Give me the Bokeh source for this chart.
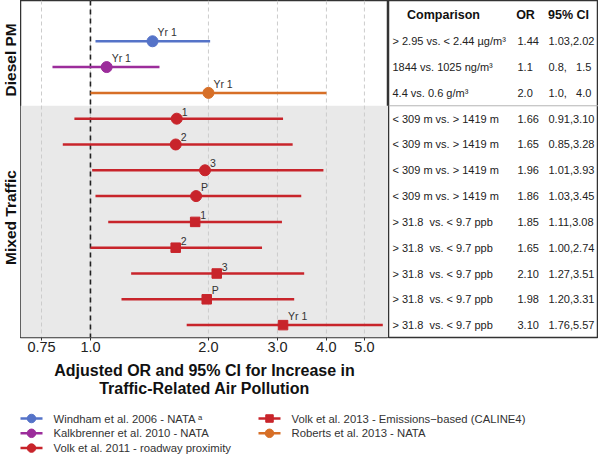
import math
from bokeh.plotting import figure
from bokeh.layouts import row, column
from bokeh.models import Range1d, FixedTicker
from bokeh.core.properties import value
from bokeh.embed import file_html
from bokeh.resources import INLINE

FONT = "Liberation Sans"
NB = "\u00a0"

# ---------------- data ----------------
study_names = ["Windham et al. 2006 - NATA \u1d43",
               "Kalkbrenner et al. 2010 - NATA",
               "Volk et al. 2011 - roadway proximity",
               "Volk et al. 2013 - Emissions\u2212based (CALINE4)",
               "Roberts et al. 2013 - NATA"]
study_colors = ["#5573c8", "#9c2d9b", "#c8242b", "#c8242b", "#d76f27"]
study_markers = ["circle", "circle", "circle", "square", "circle"]

groups = ["Diesel PM", "Mixed Traffic"]

row_study = [0, 1, 4, 2, 2, 2, 2, 3, 3, 3, 3, 3]
odds_ratio = [1.44, 1.1, 2.0, 1.66, 1.65, 1.96, 1.86, 1.85, 1.65, 2.10, 1.98, 3.10]
ci_low = [1.03, 0.8, 1.0, 0.91, 0.85, 1.01, 1.03, 1.11, 1.00, 1.27, 1.20, 1.76]
ci_high = [2.02, 1.5, 4.0, 3.10, 3.28, 3.93, 3.45, 3.08, 2.74, 3.51, 3.31, 5.57]
point_labels = ["Yr 1", "Yr 1", "Yr 1", "1", "2", "3", "P", "1", "2", "3", "P", "Yr 1"]

comparisons = ["> 2.95 vs. < 2.44 \u00b5g/m\u00b3",
               "1844 vs. 1025 ng/m\u00b3",
               "4.4 vs. 0.6 g/m\u00b3",
               "< 309 m vs. > 1419 m",
               "< 309 m vs. > 1419 m",
               "< 309 m vs. > 1419 m",
               "< 309 m vs. > 1419 m",
               "> 31.8 " + NB + "vs. < 9.7 ppb",
               "> 31.8 " + NB + "vs. < 9.7 ppb",
               "> 31.8 " + NB + "vs. < 9.7 ppb",
               "> 31.8 " + NB + "vs. < 9.7 ppb",
               "> 31.8 " + NB + "vs. < 9.7 ppb"]
or_text = ["1.44", "1.1", "2.0", "1.66", "1.65", "1.96", "1.86", "1.85", "1.65", "2.10", "1.98", "3.10"]
ci_text = ["1.03,2.02", "0.8," + NB + NB + NB + "1.5", "1.0," + NB + NB + NB + "4.0",
           "0.91,3.10", "0.85,3.28", "1.01,3.93",
           "1.03,3.45", "1.11,3.08", "1.00,2.74", "1.27,3.51", "1.20,3.31", "1.76,5.57"]
table_headers = ["Comparison", "OR", "95% CI"]

tick_vals = [0.75, 1.0, 2.0, 3.0, 4.0, 5.0]
tick_labels = ["0.75", "1.0", "2.0", "3.0", "4.0", "5.0"]

x_title = ["Adjusted OR and 95% CI for Increase in", "Traffic-Related Air Pollution"]

# ---------------- layout constants ----------------
n = len(odds_ratio)
rows = [i + 1 for i in range(n)]
Y_BOT, Y_TOP = 12.48, -0.58
X_LO, X_HI = 0.663, 5.76
FRAME_H = 337
AX_H = 22
split_y = 3.5

y_rng = Range1d(start=Y_BOT, end=Y_TOP)

colors = [study_colors[s] for s in row_study]
markers = [study_markers[s] for s in row_study]
sizes = [9.5 if m == "square" else 11 for m in markers]


def bare(fig):
    fig.xgrid.visible = False
    fig.ygrid.visible = False


# ---------------- forest plot ----------------
p = figure(width=368, height=FRAME_H + AX_H, x_axis_type="log",
           x_range=Range1d(X_LO, X_HI), y_range=y_rng,
           output_backend="svg", toolbar_location=None,
           min_border_left=0, min_border_right=0, min_border_top=0,
           min_border_bottom=AX_H, y_axis_location=None)
bare(p)
p.outline_line_color = "#333333"
p.outline_line_width = 1.5

p.quad(left=X_LO, right=X_HI, top=split_y, bottom=Y_BOT,
       fill_color="#e9e9e9", line_color=None)
p.segment(x0=tick_vals, x1=tick_vals, y0=Y_TOP, y1=Y_BOT,
          line_color="#cccccc", line_dash="4 3", line_width=1)
p.segment(x0=[1.0], x1=[1.0], y0=Y_TOP, y1=Y_BOT,
          line_color="#222222", line_dash="5 4", line_width=1.6)

p.segment(x0=ci_low, x1=ci_high, y0=rows, y1=rows,
          line_color=colors, line_width=2.5)
p.scatter(x=odds_ratio, y=rows, marker=markers, size=sizes,
          fill_color=colors, line_color=colors)
p.text(x=odds_ratio, y=rows, text=point_labels, x_offset=5, y_offset=-3,
       text_align="left", text_baseline="bottom",
       text_font=value(FONT), text_font_size="10.5px", text_color="#333333")

ax = p.xaxis[0]
ax.ticker = FixedTicker(ticks=tick_vals, minor_ticks=[])
ax.major_label_overrides = dict(zip(tick_vals, tick_labels))
ax.axis_line_color = None
ax.major_tick_line_color = "#333333"
ax.major_tick_out = 3
ax.major_tick_in = 0
ax.minor_tick_line_color = None
ax.major_label_standoff = 1
ax.major_label_text_font = FONT
ax.major_label_text_font_size = "14.5px"
ax.major_label_text_color = "#222222"

# ---------------- group labels ----------------
lab = figure(width=20, height=FRAME_H + AX_H, x_range=Range1d(0, 20), y_range=y_rng,
             output_backend="svg", toolbar_location=None,
             x_axis_location=None, y_axis_location=None, min_border=0,
             min_border_bottom=AX_H)
bare(lab)
lab.outline_line_color = None
group_centers = [1.72, 7.83]
lab.text(x=[10, 10], y=group_centers, text=groups, angle=math.pi / 2,
         text_align="center", text_baseline="middle",
         text_font=value(FONT), text_font_style="bold",
         text_font_size="15.5px", text_color="#111111")

# ---------------- table ----------------
TW = 210
tab = figure(width=TW, height=FRAME_H + AX_H, x_range=Range1d(0, TW), y_range=y_rng,
             output_backend="svg", toolbar_location=None,
             x_axis_location=None, y_axis_location=None, min_border=0,
             min_border_bottom=AX_H)
bare(tab)
tab.outline_line_color = "#333333"
tab.outline_line_width = 1.5
tab.segment(x0=[0], x1=[TW], y0=[split_y], y1=[split_y],
            line_color="#b5b5b5", line_width=1)
tab.text(x=[55, 137, 180], y=[0, 0, 0], text=table_headers,
         text_align="center", text_baseline="middle",
         text_font=value(FONT), text_font_style="bold",
         text_font_size="12.5px", text_color="#111111")
tab.text(x=[4] * n, y=rows, text=comparisons, text_align="left",
         text_baseline="middle", text_font=value(FONT),
         text_font_size="11px", text_color="#222222")
tab.text(x=[129] * n, y=rows, text=or_text, text_align="left",
         text_baseline="middle", text_font=value(FONT),
         text_font_size="11px", text_color="#222222")
tab.text(x=[160] * n, y=rows, text=ci_text, text_align="left",
         text_baseline="middle", text_font=value(FONT),
         text_font_size="11px", text_color="#222222")

# ---------------- title + legend ----------------
LW, LH = 598, 95
leg = figure(width=LW, height=LH, x_range=Range1d(0, LW), y_range=Range1d(LH, 0),
             output_backend="svg", toolbar_location=None,
             x_axis_location=None, y_axis_location=None, min_border=0)
bare(leg)
leg.outline_line_color = None
leg.text(x=[204, 204], y=[11, 29], text=x_title, text_align="center",
         text_baseline="middle", text_font=value(FONT), text_font_style="bold",
         text_font_size="16px", text_color="#111111")

ns = len(study_names)
col_i = [i // 3 for i in range(ns)]
row_i = [i % 3 for i in range(ns)]
bx = [20 + 238 * c for c in col_i]
by = [59 + 14.8 * r for r in row_i]
leg.segment(x0=bx, x1=[b + 22 for b in bx], y0=by, y1=by,
            line_color=study_colors, line_width=2.5)
leg.scatter(x=[b + 11 for b in bx], y=by, marker=study_markers,
            size=[7.5 if m == "square" else 8.5 for m in study_markers],
            fill_color=study_colors, line_color=study_colors)
leg.text(x=[b + 33 for b in bx], y=by, text=study_names, text_align="left",
         text_baseline="middle", text_font=value(FONT),
         text_font_size="11.3px", text_color="#333333")

layout = column(row(lab, p, tab), leg)

open("out.html", "w").write(file_html(layout, INLINE))
